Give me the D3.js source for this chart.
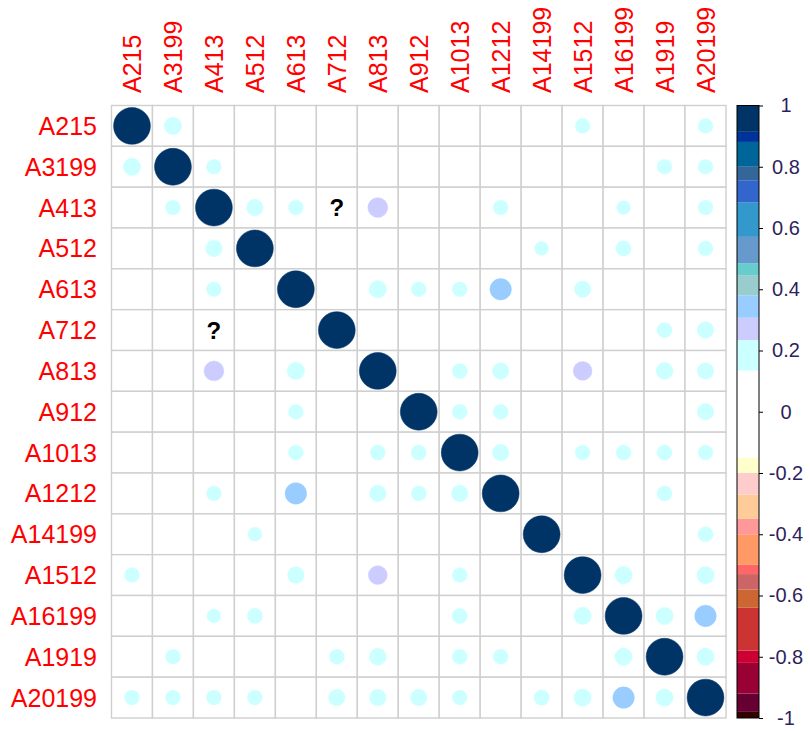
<!DOCTYPE html>
<html>
<head>
<meta charset="utf-8">
<style>
  body { margin: 0; background: white; }
  svg { display: block; font-family: "Liberation Sans", Arial, sans-serif; }
</style>
</head>
<body>
<script src="https://cdn.jsdelivr.net/npm/d3@7"></script>
<script>
// variable names (rows and columns)
var labels = ["A215", "A3199", "A413", "A512", "A613", "A712", "A813", "A912",
  "A1013", "A1212", "A14199", "A1512", "A16199", "A1919", "A20199"];

var corr = [
  [1, 0.22, null, null, null, null, null, null, null, null, null, 0.16, null, null, 0.16],
  [0.22, 1, 0.16, null, null, null, null, null, null, null, null, null, null, 0.16, 0.16],
  [null, 0.16, 1, 0.2, 0.16, "NA", 0.29, null, null, 0.16, null, null, 0.14, null, 0.16],
  [null, null, 0.2, 1, null, null, null, null, null, null, 0.14, null, 0.17, null, 0.16],
  [null, null, 0.16, null, 1, null, 0.22, 0.16, 0.16, 0.34, null, 0.2, null, null, null],
  [null, null, "NA", null, null, 1, null, null, null, null, null, null, null, 0.165, 0.2],
  [null, null, 0.29, null, 0.22, null, 1, null, 0.165, 0.2, null, 0.26, null, 0.21, 0.2],
  [null, null, null, null, 0.16, null, null, 1, 0.165, 0.165, null, null, null, null, 0.2],
  [null, null, null, null, 0.16, null, 0.165, 0.165, 1, 0.2, null, 0.16, 0.165, 0.165, 0.16],
  [null, null, 0.16, null, 0.34, null, 0.2, 0.165, 0.2, 1, null, null, null, 0.165, null],
  [null, null, null, 0.14, null, null, null, null, null, null, 1, null, null, null, 0.17],
  [0.16, null, null, null, 0.2, null, 0.26, null, 0.16, null, null, 1, 0.22, null, 0.22],
  [null, null, 0.14, 0.17, null, null, null, null, 0.165, null, null, 0.22, 1, 0.22, 0.34],
  [null, 0.16, null, null, null, 0.165, 0.21, null, 0.165, 0.165, null, null, 0.22, 1, 0.22],
  [0.16, 0.16, 0.16, 0.16, null, 0.2, 0.2, 0.2, 0.16, null, 0.17, 0.22, 0.34, 0.22, 1]
];

// colour bands of the legend
var breaks = [-0.98, -0.92, -0.82, -0.78, -0.64, -0.58, -0.53, -0.5, -0.4, -0.35, -0.27, -0.2, -0.15,
  0.135, 0.234, 0.307, 0.38, 0.446, 0.485, 0.571, 0.683, 0.756, 0.802, 0.881, 0.914];
var bandColors = ["#330000", "#660033", "#990033", "#CC0033", "#CC3333", "#CC6633", "#CC6666", "#FF6666",
  "#FF9966", "#FF9999", "#FFCC99", "#FFCCCC", "#FFFFCC", "#FFFFFF", "#CCFFFF", "#CCCCFF", "#99CCFF",
  "#99CCCC", "#66CCCC", "#6699CC", "#3399CC", "#3366CC", "#336699", "#006699", "#003399", "#003366"];
var legendTicks = [-1, -0.8, -0.6, -0.4, -0.2, 0, 0.2, 0.4, 0.6, 0.8, 1];

var W = 810, H = 731;
var svg = d3.select("body").append("svg").attr("width", W).attr("height", H);

var x = d3.scaleBand().domain(labels).range([111.5, 726]);
var y = d3.scaleBand().domain(labels).range([105.5, 718]);
var rad = d3.scaleSqrt().domain([0, 1]).range([0, 0.45 * x.bandwidth()]);
var color = d3.scaleThreshold().domain(breaks).range(bandColors);

var cells = [];
corr.forEach(function(row, i) {
  row.forEach(function(v, j) { cells.push({r: labels[i], c: labels[j], v: v}); });
});

// grid
svg.append("g").selectAll("rect").data(cells).enter().append("rect")
  .attr("x", function(d) { return x(d.c); })
  .attr("y", function(d) { return y(d.r); })
  .attr("width", x.bandwidth())
  .attr("height", y.bandwidth())
  .attr("fill", "white")
  .attr("stroke", "#cfcfcf")
  .attr("stroke-width", 1.4);

// circles
svg.append("g").selectAll("circle")
  .data(cells.filter(function(d) { return typeof d.v === "number"; }))
  .enter().append("circle")
  .attr("cx", function(d) { return x(d.c) + x.bandwidth() / 2; })
  .attr("cy", function(d) { return y(d.r) + y.bandwidth() / 2; })
  .attr("r", function(d) { return rad(Math.abs(d.v)); })
  .attr("fill", function(d) { return color(d.v); })
  .attr("stroke", function(d) { return color(d.v); })
  .attr("stroke-width", 0.5);

// NA marks
svg.append("g").selectAll("text")
  .data(cells.filter(function(d) { return d.v === "NA"; }))
  .enter().append("text")
  .attr("x", function(d) { return x(d.c) + x.bandwidth() / 2; })
  .attr("y", function(d) { return y(d.r) + y.bandwidth() / 2; })
  .attr("dy", "0.36em")
  .attr("text-anchor", "middle")
  .attr("font-weight", "bold")
  .attr("font-size", 24)
  .text("?");

// row labels
svg.append("g").selectAll("text").data(labels).enter().append("text")
  .attr("x", 97)
  .attr("y", function(d) { return y(d) + y.bandwidth() / 2; })
  .attr("dy", "0.36em")
  .attr("text-anchor", "end")
  .attr("fill", "red")
  .attr("font-size", 25)
  .text(function(d) { return d; });

// column labels
svg.append("g").selectAll("text").data(labels).enter().append("text")
  .attr("transform", function(d) { return "translate(" + (x(d) + x.bandwidth() / 2) + ",93) rotate(-90)"; })
  .attr("dy", "0.36em")
  .attr("text-anchor", "start")
  .attr("fill", "red")
  .attr("font-size", 25)
  .text(function(d) { return d; });

// colour legend
var ly = d3.scaleLinear().domain([-1, 1]).range([718, 105.5]);
var lx = 737, lw = 22;
svg.append("g").selectAll("rect").data(bandColors).enter().append("rect")
  .attr("x", lx)
  .attr("width", lw)
  .attr("y", function(c) { var e = color.invertExtent(c); return ly(Math.min(1, e[1] === undefined ? 1 : e[1])); })
  .attr("height", function(c) {
    var e = color.invertExtent(c);
    var lo = e[0] === undefined ? -1 : e[0], hi = e[1] === undefined ? 1 : e[1];
    return ly(lo) - ly(hi);
  })
  .attr("fill", function(c) { return c; });
svg.append("rect").attr("x", lx).attr("y", ly(1)).attr("width", lw).attr("height", ly(-1) - ly(1))
  .attr("fill", "none").attr("stroke", "black").attr("stroke-width", 1);

var axis = svg.append("g")
  .attr("transform", "translate(" + (lx + lw) + ",0)")
  .call(d3.axisRight(ly).tickValues(legendTicks).tickSize(4).tickFormat(function(d) { return String(d); }));
axis.select(".domain").remove();
axis.selectAll("line").attr("stroke", "black");
axis.selectAll("text")
  .attr("x", 27)
  .attr("text-anchor", "middle")
  .attr("font-family", "Liberation Sans, Arial, sans-serif")
  .attr("font-size", 20)
  .attr("fill", "#2e1f5e");
</script>
</body>
</html>
